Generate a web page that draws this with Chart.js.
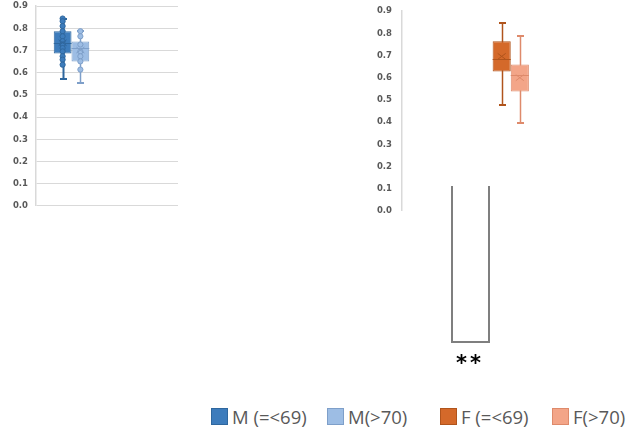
<!DOCTYPE html>
<html>
<head>
<meta charset="utf-8">
<script src="https://cdn.jsdelivr.net/npm/chart.js@4.4.0/dist/chart.umd.min.js"></script>
<style>
  body { margin: 0; background: #fff; }
  #wrap { position: relative; width: 632px; height: 429px; overflow: hidden; font-family: "Open Sans", "Liberation Sans", sans-serif; }
  #leftBox { position: absolute; left: 0; top: -7px; width: 190px; height: 226px; }
  #rightBox { position: absolute; left: 360px; top: -4px; width: 200px; height: 230px; }
  #bracket { position: absolute; left: 451px; top: 186px; width: 35px; height: 155px;
             border: 2px solid #7f7f7f; border-top: none; }
  #stars { position: absolute; left: 456px; top: 351px; font: bold 21px "DejaVu Sans", sans-serif; color: #000; letter-spacing: 3px; }
  #legend { position: absolute; left: 0; top: 408px; width: 632px; height: 20px; }
  .lg { position: absolute; top: 0; height: 20px; line-height: 18px; font-size: 18.5px; color: #595959; white-space: nowrap; }
  .lg span { display: inline-block; width: 17px; height: 17px; vertical-align: top; margin-top: 0; margin-right: 4px; box-sizing: border-box; border: 1px solid; }
</style>
</head>
<body>
<div id="wrap">
  <div id="leftBox"><canvas id="leftChart"></canvas></div>
  <div id="rightBox"><canvas id="rightChart"></canvas></div>
  <div id="bracket"></div>
  <div id="stars">**</div>
  <div id="legend"></div>
</div>
<script>
// Guruhlar
const groupLabels = ['M (=<69)', 'M(>70)', 'F (=<69)', 'F(>70)'];
const categories = ['M', 'F'];

// Box-plot statistikasi (rasmdan o'qilgan)
const whiskerLow  = [0.570, 0.553, 0.479, 0.398];
const quartile1   = [0.687, 0.651, 0.628, 0.538];
const medians     = [0.733, 0.711, 0.683, 0.610];
const quartile3   = [0.787, 0.740, 0.764, 0.660];
const whiskerHigh = [0.840, 0.787, 0.846, 0.790];
const means       = [0.735, 0.702, 0.696, 0.600];

// Ichki nuqtalar (faqat erkaklar grafigida ko'rinadi)
const pointsMYoung = [0.844, 0.832, 0.810, 0.787, 0.764, 0.742, 0.727, 0.711, 0.696, 0.674, 0.659, 0.636];
const pointsMOld   = [0.787, 0.764, 0.727, 0.696, 0.674, 0.651, 0.614];

// Y o'qi
const yMin = 0, yMax = 0.9, yStep = 0.1;

// Ranglar
const fillColors   = ['#3d7cbc', '#9dbde4', '#d4692a', '#f3a588'];
const borderColors = ['#2f679e', '#7e9fc9', '#b0541c', '#de8a6b'];

const extraPoints = [pointsMYoung, pointsMOld, [], []];

function makeDataset(i, slot) {
    const data = categories.map((c, k) => k === slot ? [quartile1[i], quartile3[i]] : null);
    return {
        label: groupLabels[i],
        data: data,
        statIndex: i,
        backgroundColor: fillColors[i],
        borderColor: borderColors[i],
        borderWidth: 1,
        borderSkipped: false,
        categoryPercentage: 0.5,
        barPercentage: 1.0
    };
}

// Mo'ylov, mediana, o'rtacha va nuqtalarni chizish
const boxExtras = {
    id: 'boxExtras',
    beforeDatasetsDraw(chart) {
        const ctx = chart.ctx;
        const y = chart.scales.y;
        chart.data.datasets.forEach((ds, di) => {
            const i = ds.statIndex;
            chart.getDatasetMeta(di).data.forEach((el, k) => {
                if (!ds.data[k]) return;
                const x = Math.round(el.x) + 0.5;
                ctx.save();
                ctx.strokeStyle = borderColors[i];
                ctx.lineWidth = i === 0 ? 2 : 1.5;
                ctx.beginPath();
                ctx.moveTo(x, y.getPixelForValue(whiskerHigh[i]));
                ctx.lineTo(x, y.getPixelForValue(whiskerLow[i]));
                ctx.stroke();
                ctx.lineWidth = 2;
                [whiskerHigh[i], whiskerLow[i]].forEach(v => {
                    const py = Math.round(y.getPixelForValue(v));
                    ctx.beginPath();
                    ctx.moveTo(x - 3.5, py);
                    ctx.lineTo(x + 3.5, py);
                    ctx.stroke();
                });
                ctx.restore();
            });
        });
    },
    afterDatasetsDraw(chart) {
        const ctx = chart.ctx;
        const y = chart.scales.y;
        chart.data.datasets.forEach((ds, di) => {
            const i = ds.statIndex;
            chart.getDatasetMeta(di).data.forEach((el, k) => {
                if (!ds.data[k]) return;
                const x = el.x;
                const hw = el.width / 2;
                ctx.save();
                ctx.strokeStyle = borderColors[i];
                ctx.lineWidth = 1;
                // mediana
                const my = Math.round(y.getPixelForValue(medians[i])) + 0.5;
                ctx.beginPath();
                ctx.moveTo(x - hw, my);
                ctx.lineTo(x + hw, my);
                ctx.stroke();
                // ichki nuqtalar
                extraPoints[i].forEach(v => {
                    ctx.beginPath();
                    ctx.arc(x, y.getPixelForValue(v), 2.6, 0, Math.PI * 2);
                    ctx.fillStyle = fillColors[i];
                    ctx.fill();
                    ctx.stroke();
                });
                // o'rtacha (X belgisi)
                const py = y.getPixelForValue(means[i]);
                ctx.beginPath();
                ctx.moveTo(x - 4, py - 3);
                ctx.lineTo(x + 4, py + 3);
                ctx.moveTo(x - 4, py + 3);
                ctx.lineTo(x + 4, py - 3);
                ctx.stroke();
                ctx.restore();
            });
        });
    }
};

function makeChart(canvasId, datasets, opts) {
    return new Chart(document.getElementById(canvasId), {
        type: 'bar',
        data: { labels: categories, datasets: datasets },
        plugins: [boxExtras],
        options: {
            responsive: true,
            maintainAspectRatio: false,
            animation: false,
            layout: { padding: opts.padding },
            plugins: { legend: { display: false }, tooltip: { enabled: false } },
            scales: {
                x: { display: false },
                y: {
                    min: yMin,
                    max: yMax,
                    afterFit: s => { s.width = opts.axisWidth; },
                    afterBuildTicks: s => {
                        const t = [];
                        for (let v = yMin; v <= yMax + 1e-9; v += yStep) t.push({ value: +v.toFixed(1) });
                        s.ticks = t;
                    },
                    ticks: {
                        padding: opts.tickPad,
                        color: '#595959',
                        font: { family: 'DejaVu Sans', size: 8.5, weight: 'bold' },
                        callback: v => Number(v).toFixed(1)
                    },
                    grid: {
                        display: opts.grid,
                        drawTicks: false,
                        color: '#d9d9d9',
                        lineWidth: 1
                    },
                    border: { display: true, color: '#d9d9d9', width: 1.5 }
                }
            }
        }
    });
}

makeChart('leftChart', [makeDataset(0, 0), makeDataset(1, 0)],
    { padding: { top: 5, right: 12, bottom: 11, left: 0 }, axisWidth: 36, tickPad: 8, grid: true });
makeChart('rightChart', [makeDataset(2, 1), makeDataset(3, 1)],
    { padding: { top: 10, right: 13, bottom: 11, left: 0 }, axisWidth: 42, tickPad: 10, grid: false });

// Legenda
const legendX = [211, 327, 440, 552];
const legend = document.getElementById('legend');
groupLabels.forEach((name, i) => {
    const d = document.createElement('div');
    d.className = 'lg';
    d.style.left = legendX[i] + 'px';
    d.innerHTML = `<span style="background:${fillColors[i]};border-color:${borderColors[i]}"></span>`;
    d.appendChild(document.createTextNode(name));
    legend.appendChild(d);
});
</script>
</body>
</html>
